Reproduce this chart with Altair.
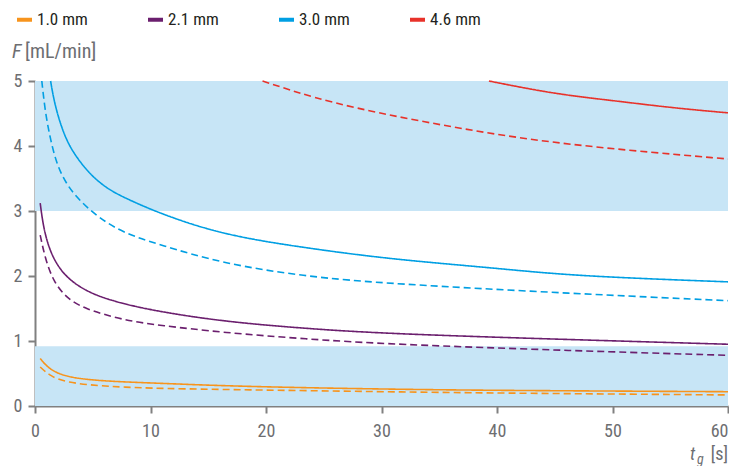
import altair as alt
import pandas as pd

sizes = ["1.0 mm", "2.1 mm", "3.0 mm", "4.6 mm"]
colors = ["#f7941d", "#6b1f6e", "#009fe3", "#e8322a"]

# 1.0 mm
t_10_solid = [0.45, 1.31, 2.75, 4.78, 7.66, 10.8, 17.7, 30, 39.3, 60]
F_10_solid = [0.73, 0.55, 0.45, 0.40, 0.37, 0.35, 0.30, 0.26, 0.24, 0.22]
t_10_dash = [0.45, 1.31, 2.75, 5.6, 7.66, 10.8, 17.7, 30, 39.3, 60]
F_10_dash = [0.60, 0.46, 0.36, 0.31, 0.29, 0.27, 0.25, 0.22, 0.20, 0.17]
# 2.1 mm
t_21_solid = [0.45, 0.74, 1.31, 2.18, 3.33, 5.06, 7.66, 10.8, 16.3, 23.5, 30.7, 46.6, 60]
F_21_solid = [3.12, 2.73, 2.37, 2.09, 1.89, 1.71, 1.57, 1.45, 1.30, 1.19, 1.11, 1.02, 0.95]
t_21_dash = [0.45, 0.88, 1.6, 2.75, 4.2, 7.66, 10.8, 16.3, 23.5, 30.7, 46.6, 60]
F_21_dash = [2.63, 2.27, 1.91, 1.66, 1.50, 1.32, 1.24, 1.13, 1.03, 0.95, 0.85, 0.78]
# 3.0 mm
t_30_solid = [1.35, 1.6, 2.03, 2.75, 3.62, 4.78, 6.2, 7.66, 10.8, 16.3, 23.5, 30.7, 40, 46.6, 60]
F_30_solid = [5.0, 4.74, 4.43, 4.07, 3.82, 3.56, 3.35, 3.21, 2.96, 2.63, 2.43, 2.26, 2.12, 2.0, 1.91]
t_30_dash = [0.59, 0.88, 1.31, 1.89, 2.75, 3.91, 5.5, 7.66, 10.8, 16.3, 23.5, 30.7, 46.6, 60]
F_30_dash = [5.0, 4.53, 4.12, 3.71, 3.40, 3.15, 2.90, 2.66, 2.48, 2.19, 1.99, 1.88, 1.73, 1.62]
# 4.6 mm
t_46_solid = [39.3, 45, 50, 55, 60]
F_46_solid = [5.0, 4.80, 4.70, 4.59, 4.51]
t_46_dash = [19.7, 25.5, 34.2, 42.8, 51.5, 60]
F_46_dash = [5.0, 4.66, 4.35, 4.09, 3.93, 3.80]

band_lo = [0, 3]
band_hi = [0.92, 5]

series = [
    ("1.0 mm", "solid", t_10_solid, F_10_solid),
    ("1.0 mm", "dashed", t_10_dash, F_10_dash),
    ("2.1 mm", "solid", t_21_solid, F_21_solid),
    ("2.1 mm", "dashed", t_21_dash, F_21_dash),
    ("3.0 mm", "solid", t_30_solid, F_30_solid),
    ("3.0 mm", "dashed", t_30_dash, F_30_dash),
    ("4.6 mm", "solid", t_46_solid, F_46_solid),
    ("4.6 mm", "dashed", t_46_dash, F_46_dash),
]
rows = []
for size, style, ts, fs in series:
    for t, f in zip(ts, fs):
        rows.append({"size": size, "style": style, "t": t, "F": f})
df = pd.DataFrame(rows)

W, H = 693, 325
FONT = "Roboto Condensed, Liberation Sans Narrow, DejaVu Sans Condensed, Roboto, sans-serif"
GREY = "#6d6e71"
AXIS_GREY = "#808080"

xscale = alt.Scale(domain=[0, 60], nice=False)
yscale = alt.Scale(domain=[0, 5], nice=False)
yaxis = alt.Axis(values=[0, 1, 2, 3, 4, 5], title=None, grid=False, labelPadding=6, tickSize=7)
xaxis = alt.Axis(
    values=[0, 10, 20, 30, 40, 50, 60], title=None, grid=False,
    labelFlush=False,
    labelAlign={"condition": {"test": "datum.value === 60", "value": "right"}, "value": "center"},
    labelPadding=9, tickSize=7)

bands = alt.Chart(pd.DataFrame({"lo": band_lo, "hi": band_hi})).mark_rect(
    color="#c7e5f6"
).encode(
    x=alt.value(0), x2=alt.value(W),
    y=alt.Y("lo:Q", scale=yscale, axis=yaxis), y2="hi:Q",
)

lines = alt.Chart(df).mark_line(strokeWidth=1.6, interpolate="basis").encode(
    x=alt.X("t:Q", scale=xscale, axis=xaxis),
    y=alt.Y("F:Q", scale=yscale, axis=yaxis),
    color=alt.Color("size:N", scale=alt.Scale(domain=sizes, range=colors),
                    legend=alt.Legend(title=None, orient="none", direction="horizontal",
                                      legendX=-20, legendY=-71, symbolType="stroke",
                                      symbolSize=225, symbolStrokeWidth=4, labelOffset=3,
                                      columnPadding=52, labelFontSize=17, labelFont=FONT,
                                      labelColor="#231f20", padding=0)),
    strokeDash=alt.StrokeDash("style:N", scale=alt.Scale(domain=["solid", "dashed"],
                                                         range=[[1, 0], [7, 4]]), legend=None),
)

one = pd.DataFrame({"a": [0]})

def label(txt, x, y, size, italic=False, align="left"):
    return alt.Chart(one).mark_text(
        text=txt, font=FONT, fontSize=size, color=GREY, align=align,
        baseline="alphabetic", fontStyle="italic" if italic else "normal",
    ).encode(x=alt.value(x), y=alt.value(y))

titles = [
    label("F", -23, -23, 20, italic=True),
    label("[mL/min]", -10, -23, 20),
    label("[s]", W, 460 - 81, 18, align="right"),
    label("t", 655, 460 - 81, 18, italic=True),
    label("g", 662, 464 - 81, 14, italic=True),
]

chart = alt.layer(bands, lines, *titles).properties(
    width=W, height=H, background="white",
    autosize=alt.AutoSizeParams(type="none"),
    padding={"left": 27, "top": 73, "right": 1, "bottom": 60},
).configure_view(stroke=None).configure_axis(
    domainColor=AXIS_GREY, domainWidth=2, tickColor=AXIS_GREY, tickWidth=2,
    labelColor=GREY, labelFont=FONT, labelFontSize=18,
)

chart.save("out.html", embed_options={"renderer": "svg", "actions": False})
